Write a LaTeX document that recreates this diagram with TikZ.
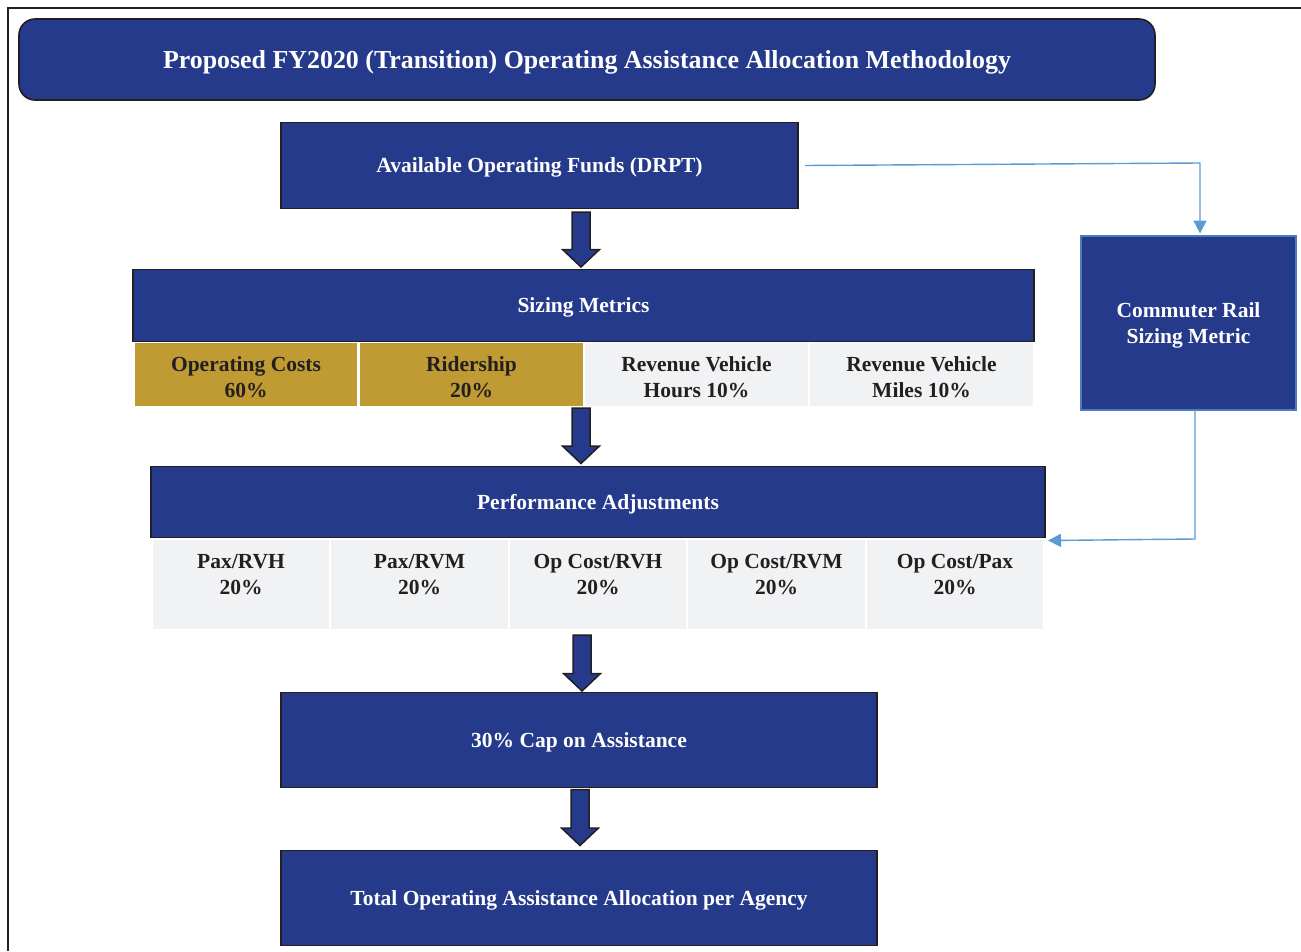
\documentclass[tikz,border=0pt]{standalone}
\usepackage{fontspec}
\setmainfont{Liberation Serif}
\usetikzlibrary{arrows.meta,calc,positioning}

\definecolor{navy}{HTML}{253A8B}
\definecolor{ink}{HTML}{231F20}
\definecolor{gold}{HTML}{C09A33}
\definecolor{cellgray}{HTML}{F1F2F4}
\definecolor{linkblue}{HTML}{5B9BD5}
\definecolor{railedge}{HTML}{4A7EBB}

% wide block arrow pointing down from #1 to the tip at the height of #2
\newcommand\flowarrow[2]{%
  \draw[blockarrow] let \p1=(#1), \p2=(#2) in
    (\x1-9pt,\y1) -- (\x1+9pt,\y1) -- (\x1+9pt,\y2+17.5pt) -- (\x1+18.5pt,\y2+17.5pt)
    -- (\x1,\y2) -- (\x1-18.5pt,\y2+17.5pt) -- (\x1-9pt,\y2+17.5pt) -- cycle;}

\begin{document}
\begin{tikzpicture}[x=1pt,y=-1pt,
  every node/.style={inner sep=0pt, outer sep=0pt},
  bluebox/.style={draw=ink, line width=1.6pt, fill=navy, text=white, text depth=0pt,
    font=\bfseries\fontsize{21.5pt}{26pt}\selectfont, align=center},
  goldcell/.style={fill=gold},
  graycell/.style={fill=cellgray},
  celltext/.style={text=ink, font=\bfseries\fontsize{21.5pt}{26pt}\selectfont, align=center},
  link/.style={draw=linkblue, line width=1.4pt, -{Triangle[length=13pt,width=13pt]}},
  blockarrow/.style={draw=ink, line width=1.5pt, fill=navy, line join=miter},
]
\useasboundingbox (0,0) rectangle (1301,951);

% page frame
\draw[ink, line width=2pt] (8,951) -- (8,8) -- (1301,8);

% heading
\node[bluebox, rounded corners=16pt, minimum width=1136pt, minimum height=81pt,
  font=\bfseries\fontsize{25.9pt}{30pt}\selectfont] (title) at (587,59.5)
  {Proposed FY2020 (Transition) Operating Assistance Allocation Methodology};

% main flow boxes
\node[bluebox, minimum width=517pt, minimum height=86pt] (avail) at (539.5,165.5)
  {Available Operating Funds (DRPT)};
\node[bluebox, minimum width=901pt, minimum height=72pt] (sizing) at (583.5,305.5)
  {Sizing Metrics};
\node[bluebox, minimum width=894pt, minimum height=71pt] (perf) at (598,502)
  {Performance Adjustments};
\node[bluebox, minimum width=596pt, minimum height=95pt] (cap) at (579,740)
  {30\% Cap on Assistance};
\node[bluebox, minimum width=596pt, minimum height=95pt] (total) at (579,898)
  {Total Operating Assistance Allocation per Agency};

% commuter rail side box
\node[bluebox, draw=railedge, line width=2pt, minimum width=215pt, minimum height=174pt]
  (rail) at (1188.5,323) {Commuter Rail\\Sizing Metric};

% sizing metric cells
\node[goldcell, minimum width=222pt, minimum height=63pt] (s1) at (246,374.5) {};
\node[goldcell, minimum width=223pt, minimum height=63pt] (s2) at (471.5,374.5) {};
\node[graycell, minimum width=223pt, minimum height=63pt] (s3) at (696.5,374.5) {};
\node[graycell, minimum width=223pt, minimum height=63pt] (s4) at (921.5,374.5) {};
\node[celltext, below=13.5pt of s1.north] (s1t) {Operating Costs\\60\%};
\node[celltext, below=13.5pt of s2.north] (s2t) {Ridership\\20\%};
\node[celltext, below=13.5pt of s3.north] (s3t) {Revenue Vehicle\\Hours 10\%};
\node[celltext, below=13.5pt of s4.north] (s4t) {Revenue Vehicle\\Miles 10\%};

% performance adjustment cells
\node[graycell, minimum width=176pt, minimum height=89pt] (p1) at (241,584.5) {};
\node[graycell, minimum width=177pt, minimum height=89pt] (p2) at (419.5,584.5) {};
\node[graycell, minimum width=176pt, minimum height=89pt] (p3) at (598,584.5) {};
\node[graycell, minimum width=177pt, minimum height=89pt] (p4) at (776.5,584.5) {};
\node[graycell, minimum width=176pt, minimum height=89pt] (p5) at (955,584.5) {};
\node[celltext, below=14pt of p1.north] (p1t) {Pax/RVH\\20\%};
\node[celltext, below=14pt of p2.north] (p2t) {Pax/RVM\\20\%};
\node[celltext, below=14pt of p3.north] (p3t) {Op Cost/RVH\\20\%};
\node[celltext, below=14pt of p4.north] (p4t) {Op Cost/RVM\\20\%};
\node[celltext, below=14pt of p5.north] (p5t) {Op Cost/Pax\\20\%};

% block arrows between the stages
\coordinate (ax1) at (581,0);
\coordinate (ax3) at (582,0);
\coordinate (ax4) at (580,0);
\flowarrow{$(avail.south -| ax1)+(0,3.5)$}{$(sizing.north -| ax1)+(0,-2.5)$}
\flowarrow{$(s3.south -| ax1)+(0,2)$}{$(perf.north -| ax1)+(0,-3)$}
\flowarrow{$(p3.south -| ax3)+(0,6)$}{$(cap.north -| ax3)+(0,-1.5)$}
\flowarrow{$(cap.south -| ax4)+(0,2)$}{$(total.north -| ax4)+(0,-5)$}

% commuter rail links
\coordinate (bend1) at (1200,163);
\draw[link, shorten >=2.5pt] ($(avail.east)+(7,0)$) -- (bend1) -- (bend1 |- rail.north);
\coordinate (bend2) at (1195,539);
\draw[link] (rail.south -| bend2) -- (bend2) -- ($(perf.south east)+(3,3)$);
\end{tikzpicture}
\end{document}
